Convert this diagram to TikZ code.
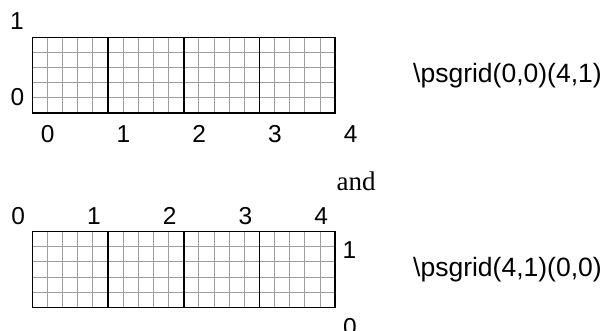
\documentclass[tikz,border=0pt]{standalone}
\usepackage{fontspec}
\setmainfont{Liberation Sans}
\newfontfamily\serifA{Liberation Serif}
\begin{document}
\begin{tikzpicture}[x=1pt,y=-1pt,
  minorline/.style={draw=black!38, line width=0.9pt},
  majorline/.style={draw=black, line width=1.6pt},
  lab/.style={font=\fontsize{24.5}{24.5}\selectfont, inner sep=0pt, anchor=base},
  cmd/.style={font=\fontsize{26.5}{26.5}\selectfont, inner sep=0pt, anchor=base west},
  andtext/.style={font=\serifA\fontsize{27}{27}\selectfont, inner sep=0pt, anchor=base}]
\useasboundingbox (0,0) rectangle (602,331);
% ---- top grid ----
\def\gx{32.3}\def\gu{75.7}
\def\ta{37.5}\def\tb{113}
\foreach \i in {1,...,19} \draw[minorline] ({\gx+\i*\gu/5},\ta) -- ({\gx+\i*\gu/5},\tb);
\foreach \j in {1,...,4} \draw[minorline] (\gx,{\ta+\j*(\tb-\ta)/5}) -- ({\gx+4*\gu},{\ta+\j*(\tb-\ta)/5});
\foreach \i in {1,2,3} \draw[majorline] ({\gx+\i*\gu},\ta) -- ({\gx+\i*\gu},\tb);
\draw[majorline] (\gx,\ta) rectangle ({\gx+4*\gu},\tb);
\foreach \i in {0,...,4} \node[lab] (tx\i) at ({\gx+\i*\gu+15.5},142.3) {\i};
\node[lab] (ty1) at (17,29.3) {1};
\node[lab] (ty0) at (17.5,105.5) {0};
\node[cmd] (c1) at (413,83) {\textbackslash psgrid(0,0)(4,1)};
% ---- and ----
\node[andtext] (and) at (356,190) {and};
% ---- bottom grid ----
\def\ba{231.5}\def\bb{307.5}
\foreach \i in {1,...,19} \draw[minorline] ({\gx+\i*\gu/5},\ba) -- ({\gx+\i*\gu/5},\bb);
\foreach \j in {1,...,4} \draw[minorline] (\gx,{\ba+\j*(\bb-\ba)/5}) -- ({\gx+4*\gu},{\ba+\j*(\bb-\ba)/5});
\foreach \i in {1,2,3} \draw[majorline] ({\gx+\i*\gu},\ba) -- ({\gx+\i*\gu},\bb);
\draw[majorline] (\gx,\ba) rectangle ({\gx+4*\gu},\bb);
\foreach \i in {0,...,4} \node[lab] (bx\i) at ({\gx+\i*\gu-14},224.5) {\i};
\node[lab] (by1) at (349.5,258.5) {1};
\node[lab] (by0) at (350,335.5) {0};
\node[cmd] (c2) at (413,276) {\textbackslash psgrid(4,1)(0,0)};
\end{tikzpicture}
\end{document}
